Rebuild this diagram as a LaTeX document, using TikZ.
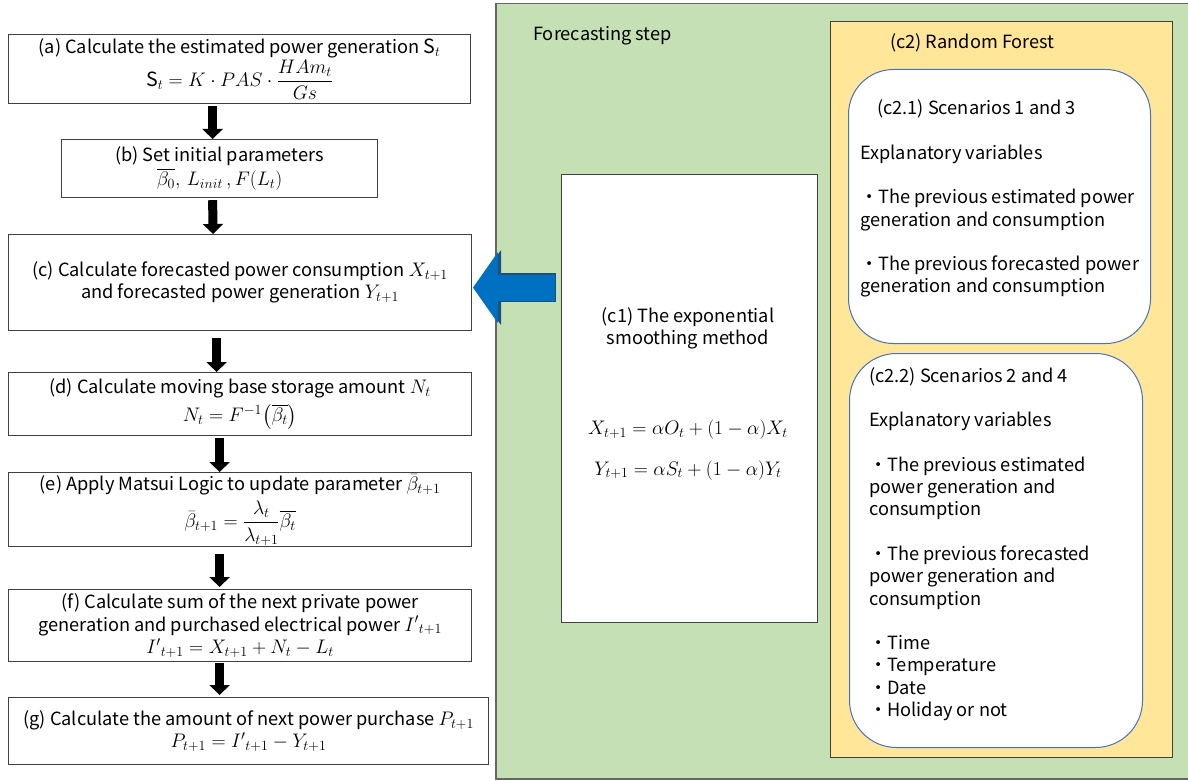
\RequirePackage{fix-cm}
\documentclass[tikz,border=0pt]{standalone}
\usepackage{amsmath}
\usepackage{fontspec}
\setmainfont{Noto Sans CJK JP}
\DeclareMathSizes{18.2}{19.6}{14}{10.5}
\usetikzlibrary{arrows.meta,calc}
\definecolor{greenbg}{HTML}{C5E0B4}
\definecolor{yellowbg}{HTML}{FFE699}
\definecolor{bluearr}{HTML}{0070C0}
\definecolor{bluedark}{HTML}{1F4E79}
\definecolor{rbord}{HTML}{4472C4}
\definecolor{frame}{HTML}{404040}
\begin{document}
\begin{tikzpicture}[x=1pt,y=-1pt,
  every node/.style={font=\fontsize{18.2}{22.3}\selectfont, inner sep=0pt},
  flow/.style={draw=frame, line width=1.2pt, fill=white, align=center, anchor=north west},
  blk/.style={line width=9pt, draw=black, -{Triangle[width=20pt,length=10pt]}},
  rbox/.style={draw=rbord, line width=1pt, fill=white, rounded corners=45pt, anchor=north west},
  lst/.style={align=left, anchor=north west},
]
\useasboundingbox (0,0) rectangle (1188,781);
% background frames
\node[draw=frame!80, line width=1.5pt, fill=greenbg, minimum width=700pt, minimum height=775pt, anchor=north west] (green) at (495,3) {};
\node[draw=frame, line width=1.2pt, fill=yellowbg, minimum width=342pt, minimum height=736pt, anchor=north west] (yellow) at (830,21) {};
\node[anchor=west] (fstep) at (533,36) {Forecasting step};
\node[anchor=west] (c2t) at (890,43) {(c2) Random Forest};
% left flow
\node[flow, minimum width=462pt, minimum height=69pt] (a) at (8,34) {(a) Calculate the estimated power generation $\mathrm{S}_t$\\[1pt] $\mathrm{S}_t = K\cdot PAS\cdot \dfrac{HAm_t}{Gs}$};
\node[flow, minimum width=316pt, minimum height=58pt] (b) at (61,139) {(b) Set initial parameters\\[2pt] $\overline{\beta_0},\, L_{init}\,,F(L_t)$};
\node[flow, minimum width=463pt, minimum height=96pt] (c) at (8,234) {(c) Calculate forecasted power consumption $X_{t+1}$\\ and forecasted power generation $Y_{t+1}$};
\node[flow, minimum width=463pt, minimum height=63pt] (d) at (8,372) {(d) Calculate moving base storage amount $N_t$\\[5pt] $N_t = F^{-1}\bigl(\overline{\beta_t}\bigr)$};
\node[flow, minimum width=463pt, minimum height=74pt] (e) at (8,472) {(e) Apply Matsui Logic to update parameter $\bar{\beta}_{t+1}$\\[5pt] $\bar{\beta}_{t+1} = \dfrac{\lambda_t}{\lambda_{t+1}}\overline{\beta_t}$};
\node[flow, minimum width=463pt, minimum height=72pt] (f) at (8,589) {(f) Calculate sum of the next private power\\ generation and purchased electrical power ${I'}_{t+1}$\\ ${I'}_{t+1} = X_{t+1} + N_t - L_t$};
\node[flow, minimum width=480pt, minimum height=67pt] (g) at (8,697) {(g) Calculate the amount of next power purchase $P_{t+1}$\\ $P_{t+1} = {I'}_{t+1} - Y_{t+1}$};
% black arrows
\draw[blk] ([xshift=-27pt,yshift=-2pt]a.south) -- ([xshift=-7pt]b.north);
\draw[blk] ([xshift=-7pt,yshift=-2pt]b.south) -- ([xshift=-27pt]c.north);
\draw[blk] ([xshift=-23.5pt,yshift=-7pt]c.south) -- ([xshift=-23.5pt]d.north);
\draw[blk] ([xshift=-20.5pt,yshift=-2pt]d.south) -- ([xshift=-20.5pt]e.north);
\draw[blk] ([xshift=-20.5pt,yshift=-7pt]e.south) -- ([xshift=-20.5pt,yshift=2pt]f.north);
\draw[blk] ([xshift=-20.5pt,yshift=-1pt]f.south) -- ([xshift=-29pt,yshift=2pt]g.north);
% c1
\node[draw=frame, line width=1.2pt, fill=white, minimum width=256pt, minimum height=448pt, anchor=north west] (c1) at (561,174) {};
\node[align=center] (c1t) at (688,328) {(c1) The exponential\\ smoothing method};
\node[align=center] (c1f) at (688,450) {$X_{t+1} = \alpha O_t + (1-\alpha)X_t$\\[18pt] $Y_{t+1} = \alpha S_t + (1-\alpha)Y_t$};
% blue arrow
\coordinate (bs) at ($(c1.west |- c.east)+(-6,5)$);
\coordinate (bt) at ($(c.east)+(2,5)$);
\draw[line width=29pt, draw=bluedark, -{Triangle[width=74pt,length=27pt]}] ($(bs)+(1,0)$) -- (bt);
\draw[line width=26pt, draw=bluearr, -{Triangle[width=70pt,length=25pt]}] (bs) -- ($(bt)+(-1.2,0)$);
% c2.1
\node[rbox, minimum width=302pt, minimum height=274pt] (c21) at (848,69) {};
\node[lst] (c21t) at (860,99.5) {\hspace*{17pt}(c2.1) Scenarios 1 and 3\\[22.3pt]
Explanatory variables\\[22.3pt]
・The previous estimated power\\
generation and consumption\\[22.3pt]
・The previous forecasted power\\
generation and consumption};
% c2.2
\node[rbox, minimum width=293pt, minimum height=394pt, rounded corners=47pt] (c22) at (849,353) {};
\node[lst] (c22t) at (869,367) {(c2.2) Scenarios 2 and 4\\[22.3pt]
Explanatory variables\\[22.3pt]
・The previous estimated\\
power generation and\\
consumption\\[22.3pt]
・The previous forecasted\\
power generation and\\
consumption\\[22.3pt]
・Time\\
・Temperature\\
・Date\\
・Holiday or not};
\end{tikzpicture}
\end{document}
